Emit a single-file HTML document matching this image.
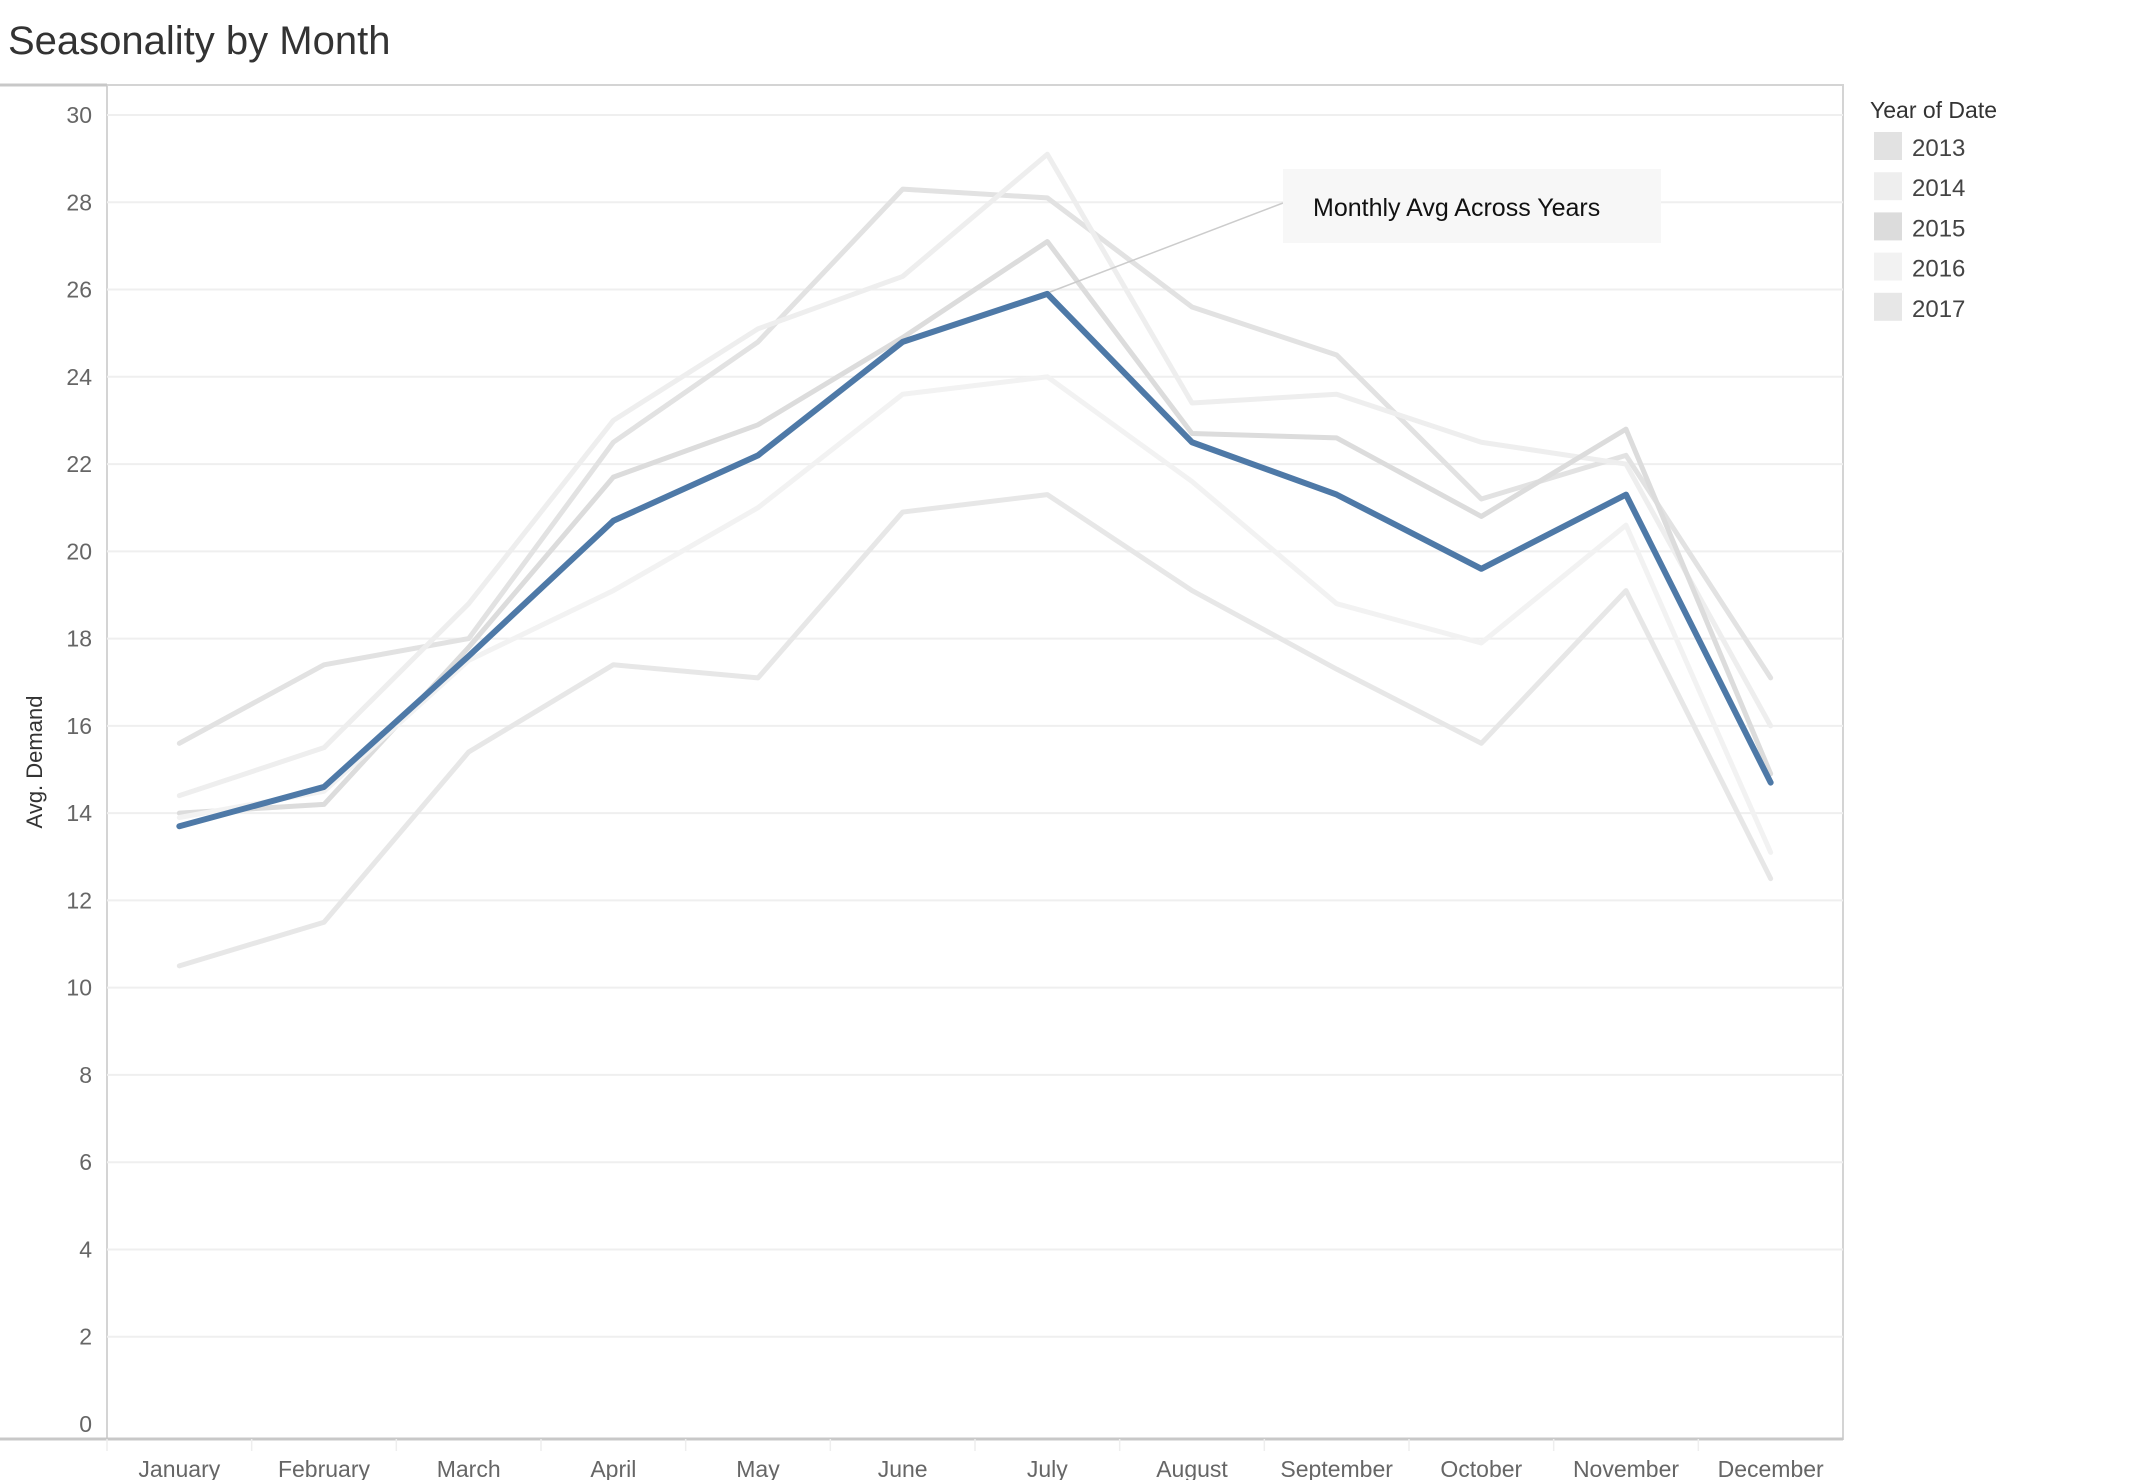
<!DOCTYPE html>
<html><head><meta charset="utf-8"><style>
body{margin:0;background:#fff;}
svg{display:block;font-family:"Liberation Sans",sans-serif;}
</style></head><body>
<svg id="chart" width="2138" height="1480" viewBox="0 0 2138 1480">
<text x="8" y="54" font-size="40" fill="#333" font-weight="300">Seasonality by Month</text>
<g id="grid"></g>
<g id="yaxis"></g>
<g id="xaxis"></g>
<g id="lines"></g>
<text transform="translate(42,762) rotate(-90)" text-anchor="middle" font-size="22" fill="#333">Avg. Demand</text>
<line x1="1283" y1="203" x2="1050" y2="292" stroke="#ccc" stroke-width="1.5"/>
<rect x="1283" y="169" width="378" height="74" fill="#f7f7f7"/>
<text x="1313" y="216" font-size="25" fill="#111">Monthly Avg Across Years</text>
<g id="legend">
<text x="1870" y="118" font-size="23" fill="#333">Year of Date</text>
</g>
</svg>
<script>
const months=["January","February","March","April","May","June","July","August","September","October","November","December"];
const yTicks=[0,2,4,6,8,10,12,14,16,18,20,22,24,26,28,30];
const years=["2013","2014","2015","2016","2017"];
const s2013=[15.6,17.4,18.0,22.5,24.8,28.3,28.1,25.6,24.5,21.2,22.2,17.1];
const s2014=[14.4,15.5,18.8,23.0,25.1,26.3,29.1,23.4,23.6,22.5,22.0,16.0];
const s2015=[14.0,14.2,17.8,21.7,22.9,24.9,27.1,22.7,22.6,20.8,22.8,14.9];
const s2016=[13.9,14.5,17.5,19.1,21.0,23.6,24.0,21.6,18.8,17.9,20.6,13.1];
const s2017=[10.5,11.5,15.4,17.4,17.1,20.9,21.3,19.1,17.3,15.6,19.1,12.5];
const avgSeries=[13.7,14.6,17.6,20.7,22.2,24.8,25.9,22.5,21.3,19.6,21.3,14.7];
const NS="http://www.w3.org/2000/svg";
const L=107,R=1843,T=85,B=1439;
const y0=1424,y30=115;
function yS(v){return y0-(v/30)*(y0-y30);}
const step=(R-L)/12;
function xS(i){return L+step*(i+0.5);}
function mk(tag,attrs,parent){const e=document.createElementNS(NS,tag);for(const k in attrs)e.setAttribute(k,attrs[k]);parent.appendChild(e);return e;}
const grid=document.getElementById('grid'),ya=document.getElementById('yaxis'),xa=document.getElementById('xaxis'),ln=document.getElementById('lines'),lg=document.getElementById('legend');
// frame
let f=mk('rect',{x:L,y:T,width:R-L,height:B-T,fill:'none',stroke:'#d4d4d4','stroke-width':2},grid);


let tl=mk('line',{x1:0,y1:T,x2:L,y2:T,stroke:'#c8c8c8','stroke-width':3},grid);


let bl=mk('line',{x1:0,y1:B,x2:R,y2:B,stroke:'#c8c8c8','stroke-width':3},grid);


yTicks.forEach(v=>{
  const y=yS(v);
  if(v>0){const g=mk('line',{x1:L,y1:y,x2:R,y2:y,stroke:'#efefef','stroke-width':2},grid);
  
  }
  const t=mk('text',{x:92,y:y+8,'text-anchor':'end','font-size':23,fill:'#666'},ya);
  
  
  t.textContent=v;
});
months.forEach((m,i)=>{
  const xe=L+step*i;
  const tk=mk('line',{x1:xe,y1:B,x2:xe,y2:B+12,stroke:'#eee','stroke-width':1.5},xa);
  
  
  const t=mk('text',{x:xS(i),y:1477,'text-anchor':'middle','font-size':23,fill:'#666'},xa);
  
  
  t.textContent=m;
});
const greys=["#e2e2e2","#eeeeee","#dcdcdc","#f2f2f2","#e7e7e7"];
const all=[s2013,s2014,s2015,s2016,s2017];
all.forEach((s,k)=>{
  const p=mk('polyline',{points:s.map((v,i)=>xS(i)+','+yS(v)).join(' '),fill:'none',stroke:greys[k],'stroke-width':5,'stroke-linejoin':'round','stroke-linecap':'round'},ln);
  
  
});
const a=mk('polyline',{points:avgSeries.map((v,i)=>xS(i)+','+yS(v)).join(' '),fill:'none',stroke:'#4e79a7','stroke-width':6,'stroke-linejoin':'round','stroke-linecap':'round'},ln);


years.forEach((yr,k)=>{
  const y=132+k*40.2;
  const r=mk('rect',{x:1874,y:y,width:28,height:28,fill:greys[k]},lg);
  
  
  const t=mk('text',{x:1912,y:y+24,'font-size':24,fill:'#444'},lg);
  
  
  t.textContent=yr;
});
</script>
</body></html>
